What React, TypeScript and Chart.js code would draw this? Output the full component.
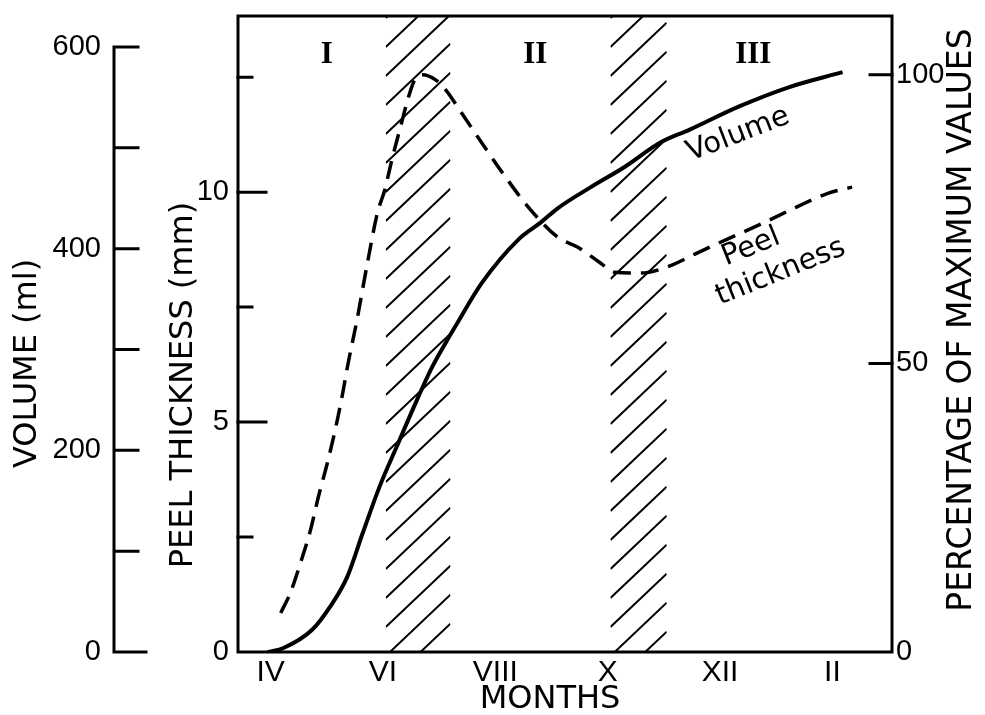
import React, { useEffect, useRef } from 'react';
import { Chart, registerables } from 'chart.js';

Chart.register(...registerables);

// ---- data ----
const xTickMonths = [4, 6, 8, 10, 12, 14];
const xTickLabels = ['IV', 'VI', 'VIII', 'X', 'XII', 'II'];

const volumeMonths = [3.95, 4.23, 4.74, 5.06, 5.36, 5.64, 5.94, 6.24, 6.59, 6.87, 7.12, 7.3, 7.76, 8.41, 8.81, 9.11, 9.7, 10.3, 10.93, 11.46, 12.34, 13.22, 14.18];
const volumeValues = [0, 4, 22, 45, 74, 118, 164, 203, 248, 282, 307, 324, 366, 409, 426, 440, 461, 481, 505, 518, 541, 560, 575];

const peelMonths = [4.18, 4.35, 4.53, 4.71, 4.85, 5.01, 5.15, 5.27, 5.38, 5.53, 5.71, 5.9, 6.03, 6.17, 6.33, 6.45, 6.56, 6.7, 6.95, 7.12, 7.4, 7.76, 8.18, 8.59, 9.11, 9.47, 9.87, 10.12, 10.58, 11.05, 11.58, 12.17, 12.77, 13.35, 13.93, 14.35];
const peelValues = [0.85, 1.28, 1.93, 2.65, 3.37, 4.11, 4.83, 5.54, 6.28, 7.17, 8.37, 9.54, 10.04, 10.76, 11.5, 12.05, 12.43, 12.55, 12.43, 12.22, 11.72, 11.07, 10.33, 9.67, 9.02, 8.8, 8.46, 8.26, 8.24, 8.37, 8.67, 9.0, 9.33, 9.67, 9.98, 10.11];

const volumeTicks = [0, 100, 200, 300, 400, 500, 600];
const volumeLabelled = [0, 200, 400, 600];
const peelTicks = [0, 2.5, 5, 7.5, 10, 12.5];
const peelLabelled = [0, 5, 10];
const percentTicks = [0, 50, 100];

const hatchBandStart = [6.05, 10.05];
const hatchBandEnd = [7.2, 11.05];

const periodLabels = ['I', 'II', 'III'];
const periodMonths = [5.0, 8.71, 12.59];

const TITLE_FONT = '"DejaVu Sans", sans-serif';
const NUM_FONT = '"Liberation Sans", sans-serif';
const ROMAN_FONT = '"Liberation Sans Narrow", "Liberation Sans", sans-serif';

function drawRotatedText(ctx: CanvasRenderingContext2D, text: string, x: number, y: number, angleDeg: number, font: string) {
  ctx.save();
  ctx.translate(x, y);
  ctx.rotate((angleDeg * Math.PI) / 180);
  ctx.font = font;
  ctx.fillStyle = '#000';
  ctx.textAlign = 'center';
  ctx.textBaseline = 'middle';
  ctx.fillText(text, 0, 0);
  ctx.restore();
}

const zeroPad = (s: any) => {
  s.paddingTop = 0;
  s.paddingBottom = 0;
  s.paddingLeft = 0;
  s.paddingRight = 0;
};

const decorPlugin = {
  id: 'decor',
  beforeDatasetsDraw(chart: any) {
    const { ctx, chartArea, scales } = chart;
    const xs = scales.x;
    ctx.save();
    ctx.strokeStyle = '#000';
    ctx.lineWidth = 2;
    for (let b = 0; b < hatchBandStart.length; b++) {
      const x0 = xs.getPixelForValue(hatchBandStart[b]);
      const x1 = xs.getPixelForValue(hatchBandEnd[b]);
      const top = chartArea.top;
      const bottom = chartArea.bottom;
      ctx.save();
      ctx.beginPath();
      ctx.rect(x0, top, x1 - x0, bottom - top);
      ctx.clip();
      const w = x1 - x0;
      const slope = 0.95;
      ctx.beginPath();
      for (let yl = top + 31 - 29 * 3; yl < bottom + w * slope + 29; yl += 29) {
        ctx.moveTo(x0, yl);
        ctx.lineTo(x1, yl - w * slope);
      }
      ctx.stroke();
      ctx.restore();
    }
    ctx.restore();
  },
  afterDatasetsDraw(chart: any) {
    const { ctx, chartArea, scales } = chart;
    const { left, right, top, bottom } = chartArea;
    const xs = scales.x;
    const yVol = scales.yVol;
    const yPeel = scales.yPeel;
    const yPct = scales.yPct;
    ctx.save();
    ctx.strokeStyle = '#000';
    ctx.lineCap = 'square';
    // frame
    ctx.lineWidth = 3;
    ctx.strokeRect(left, top, right - left, bottom - top);
    // peel thickness ticks (inward)
    ctx.beginPath();
    peelTicks.forEach((v) => {
      if (v === 0) return;
      const y = yPeel.getPixelForValue(v);
      const len = peelLabelled.includes(v) ? 28 : 14;
      ctx.moveTo(left, y);
      ctx.lineTo(left + len, y);
    });
    ctx.stroke();
    // percentage ticks (inward)
    ctx.beginPath();
    percentTicks.forEach((v) => {
      if (v === 0) return;
      const y = yPct.getPixelForValue(v);
      ctx.moveTo(right, y);
      ctx.lineTo(right - 22, y);
    });
    ctx.stroke();
    // volume axis
    const vx = yVol.right;
    ctx.beginPath();
    ctx.moveTo(vx, yVol.getPixelForValue(0));
    ctx.lineTo(vx, yVol.getPixelForValue(600));
    volumeTicks.forEach((v) => {
      const y = yVol.getPixelForValue(v);
      ctx.moveTo(vx, y);
      ctx.lineTo(vx + (v === 0 ? 32 : 24), y);
    });
    ctx.stroke();
    ctx.restore();

    // period labels
    periodLabels.forEach((t, i) => {
      drawRotatedText(ctx, t, xs.getPixelForValue(periodMonths[i]), yPeel.getPixelForValue(12.98), 0, 'bold 31px "Liberation Serif", serif');
    });
    // curve labels
    const lf = '29px ' + TITLE_FONT;
    drawRotatedText(ctx, 'Volume', xs.getPixelForValue(12.32), yVol.getPixelForValue(513), -21, lf);
    drawRotatedText(ctx, 'Peel', xs.getPixelForValue(12.55), yPeel.getPixelForValue(8.8), -22, lf);
    drawRotatedText(ctx, 'thickness', xs.getPixelForValue(13.08), yPeel.getPixelForValue(8.26), -22, lf);

    // axis titles
    const tf = '32px ' + TITLE_FONT;
    drawRotatedText(ctx, 'VOLUME (ml)', yVol.left + 28, (yVol.getPixelForValue(0) + yVol.getPixelForValue(600)) / 2 + 14, -90, tf);
    drawRotatedText(ctx, 'PEEL THICKNESS (mm)', yPeel.left + 70, (top + bottom) / 2 + 51, -90, tf);
    drawRotatedText(ctx, 'PERCENTAGE OF MAXIMUM VALUES', yPct.right - 23, (top + bottom) / 2 - 14, -90, '33px ' + TITLE_FONT);
    drawRotatedText(ctx, 'MONTHS', (left + right) / 2 - 15, xs.bottom - 15, 0, tf);
  },
};

export default function App() {
  const canvasRef = useRef<HTMLCanvasElement | null>(null);

  useEffect(() => {
    const canvas = canvasRef.current;
    if (!canvas) return;
    const chart = new Chart(canvas, {
      type: 'line',
      data: {
        datasets: [
          {
            label: 'Volume',
            data: volumeMonths.map((m, i) => ({ x: m, y: volumeValues[i] })),
            yAxisID: 'yVol',
            borderColor: '#000',
            borderWidth: 4,
            pointRadius: 0,
            fill: false,
            cubicInterpolationMode: 'monotone',
          },
          {
            label: 'Peel thickness',
            data: peelMonths.map((m, i) => ({ x: m, y: peelValues[i] })),
            yAxisID: 'yPeel',
            borderColor: '#000',
            borderWidth: 3.5,
            borderDash: [18, 10],
            pointRadius: 0,
            fill: false,
            cubicInterpolationMode: 'monotone',
          },
        ],
      },
      options: {
        animation: false,
        responsive: false,
        maintainAspectRatio: false,
        layout: { padding: { top: 16, left: 0, right: 0, bottom: 0 } },
        plugins: {
          legend: { display: false },
          tooltip: { enabled: false },
          title: { display: false },
        },
        scales: {
          x: {
            type: 'linear',
            position: 'bottom',
            min: 3.42,
            max: 15.06,
            grid: { display: false, drawTicks: false },
            border: { display: false },
            afterBuildTicks: (s: any) => {
              s.ticks = xTickMonths.map((v) => ({ value: v }));
            },
            afterFit: (s: any) => {
              s.height = 63;
              zeroPad(s);
            },
            ticks: {
              autoSkip: false,
              maxRotation: 0,
              padding: 6,
              color: '#000',
              font: { family: ROMAN_FONT, size: 30, lineHeight: 1 },
              callback: (v: any) => {
                const i = xTickMonths.indexOf(Number(v));
                return i >= 0 ? xTickLabels[i] : '';
              },
            },
          },
          yVol: {
            type: 'linear',
            position: 'left',
            weight: 2,
            min: 0,
            max: 630.7,
            grid: { display: false, drawTicks: false },
            border: { display: false },
            afterBuildTicks: (s: any) => {
              s.ticks = volumeTicks.map((v) => ({ value: v }));
            },
            afterFit: (s: any) => {
              s.width = 114;
              zeroPad(s);
            },
            ticks: {
              padding: 13,
              color: '#000',
              font: { family: NUM_FONT, size: 29, lineHeight: 1 },
              callback: (v: any) => (volumeLabelled.includes(Number(v)) ? String(v) : ''),
            },
          },
          yPeel: {
            type: 'linear',
            position: 'left',
            weight: 1,
            min: 0,
            max: 13.83,
            grid: { display: false, drawTicks: false },
            border: { display: false },
            afterBuildTicks: (s: any) => {
              s.ticks = peelTicks.map((v) => ({ value: v }));
            },
            afterFit: (s: any) => {
              s.width = 124;
              zeroPad(s);
            },
            ticks: {
              padding: 9,
              color: '#000',
              font: { family: NUM_FONT, size: 29, lineHeight: 1 },
              callback: (v: any) => (peelLabelled.includes(Number(v)) ? String(v) : ''),
            },
          },
          yPct: {
            type: 'linear',
            position: 'right',
            min: 0,
            max: 110.2,
            grid: { display: false, drawTicks: false },
            border: { display: false },
            afterBuildTicks: (s: any) => {
              s.ticks = percentTicks.map((v) => ({ value: v }));
            },
            afterFit: (s: any) => {
              s.width = 93;
              zeroPad(s);
            },
            ticks: {
              padding: 4,
              color: '#000',
              font: { family: NUM_FONT, size: 29, lineHeight: 1 },
              callback: (v: any) => String(v),
            },
          },
        },
      } as any,
      plugins: [decorPlugin],
    });
    return () => chart.destroy();
  }, []);

  return (
    <div style={{ position: 'fixed', left: 0, top: 0, width: 985, height: 715, background: '#fff' }}>
      <canvas ref={canvasRef} width={985} height={715} style={{ width: 985, height: 715, display: 'block' }} />
    </div>
  );
}
